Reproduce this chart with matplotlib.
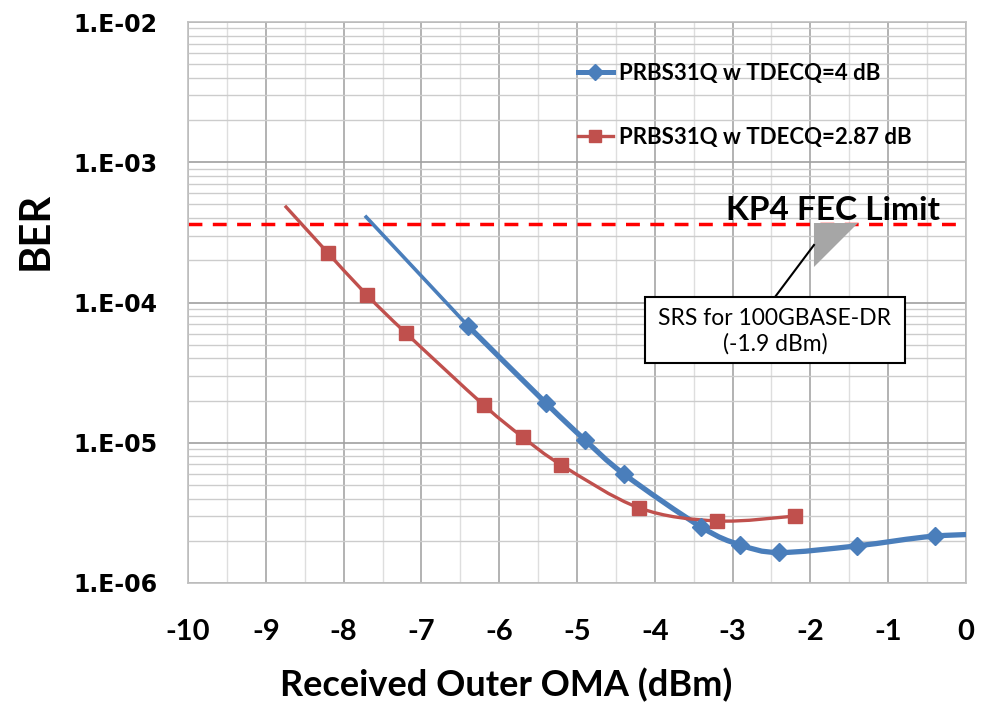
import numpy as np
import matplotlib.pyplot as plt
from matplotlib.path import Path
from matplotlib.patches import PathPatch, Polygon, Rectangle
from matplotlib.ticker import FixedLocator, FuncFormatter, LogLocator

plt.rcParams['axes.unicode_minus'] = False

# measured BER vs received outer OMA
tdecq4_x = [-6.4, -5.4, -4.9, -4.4, -3.4, -2.9, -2.4, -1.4, -0.4, 0.6]
tdecq4_y = [6.8e-5, 1.92e-5, 1.05e-5, 6.0e-6, 2.5e-6, 1.87e-6, 1.65e-6, 1.84e-6, 2.16e-6, 2.25e-6]
tdecq287_x = [-8.2, -7.7, -7.2, -6.2, -5.7, -5.2, -4.2, -3.2, -2.2]
tdecq287_y = [2.25e-4, 1.13e-4, 6.06e-5, 1.86e-5, 1.1e-5, 6.94e-6, 3.43e-6, 2.77e-6, 3.0e-6]

# extrapolated tails up to the FEC limit
tail4_x = [-7.71, -6.4]
tail4_y = [4.07e-4, 6.8e-5]
tail287_x = [-8.74, -8.2]
tail287_y = [4.8e-4, 2.25e-4]

fec_limit = 3.6e-4
labels = ['PRBS31Q w TDECQ=4 dB', 'PRBS31Q w TDECQ=2.87 dB']

blue = '#4A7EBB'
red = '#C0504D'


def smooth_path(xs, ys, t=1/6.):
    # Catmull-Rom style bezier in (x, log y) space
    lx = np.array(xs, float)
    ly = np.log10(ys)
    n = len(lx)
    verts = [(lx[0], ly[0])]
    codes = [Path.MOVETO]
    for i in range(n - 1):
        p0 = (lx[max(i - 1, 0)], ly[max(i - 1, 0)])
        p1 = (lx[i], ly[i])
        p2 = (lx[i + 1], ly[i + 1])
        p3 = (lx[min(i + 2, n - 1)], ly[min(i + 2, n - 1)])
        c1 = (p1[0] + (p2[0] - p0[0]) * t, p1[1] + (p2[1] - p0[1]) * t)
        c2 = (p2[0] - (p3[0] - p1[0]) * t, p2[1] - (p3[1] - p1[1]) * t)
        verts += [c1, c2, p2]
        codes += [Path.CURVE4] * 3
    verts = [(vx, 10 ** vy) for vx, vy in verts]
    return Path(verts, codes)


fig = plt.figure(figsize=(9.87, 7.03), dpi=100)
ax = fig.add_axes([0.1905, 0.1707, 0.7882, 0.798])

ax.set_yscale('log')
ax.set_xlim(-10, 0)
ax.set_ylim(1e-6, 1e-2)

ax.xaxis.set_major_locator(FixedLocator(np.arange(-10, 1, 1)))
ax.xaxis.set_minor_locator(FixedLocator(np.arange(-9.5, 0, 1)))
ax.yaxis.set_major_locator(LogLocator(base=10, numticks=10))
ax.yaxis.set_minor_locator(LogLocator(base=10, subs=np.arange(2, 10), numticks=20))
ax.xaxis.set_major_formatter(FuncFormatter(lambda v, p: '%d' % round(v)))
ax.yaxis.set_major_formatter(FuncFormatter(lambda v, p: '1.E-%02d' % round(-np.log10(v))))
ax.yaxis.set_minor_formatter(FuncFormatter(lambda v, p: ''))

ax.xaxis.grid(True, which='major', color='#a6a6a6', lw=1.2)
ax.xaxis.grid(True, which='minor', color='#dedede', lw=1.0)
ax.yaxis.grid(True, which='major', color='#a0a0a0', lw=1.2)
ax.yaxis.grid(True, which='minor', color='#cccccc', lw=1.0)
ax.set_axisbelow(True)
for s in ax.spines.values():
    s.set_color('#bfbfbf')
    s.set_linewidth(1.2)

ax.tick_params(which='both', length=0)
ax.tick_params(axis='y', pad=22)
ax.tick_params(axis='x', pad=26)
for t in ax.get_yticklabels():
    t.set_fontfamily('DejaVu Sans')
    t.set_fontweight('bold')
    t.set_fontsize(17)
for t in ax.get_xticklabels():
    t.set_fontfamily('Lato')
    t.set_fontweight('bold')
    t.set_fontsize(21)

# FEC limit
ax.axhline(fec_limit, color='#FF0000', lw=2.5, ls=(0, (4, 3)), zorder=2)

# tails
ax.plot(tail4_x, tail4_y, color=blue, lw=2.6, zorder=3)
ax.plot(tail287_x, tail287_y, color=red, lw=2.4, zorder=3)

# smoothed curves
ax.add_patch(PathPatch(smooth_path(tdecq4_x, tdecq4_y), fill=False, edgecolor=blue, lw=3.8, zorder=4))
ax.add_patch(PathPatch(smooth_path(tdecq287_x, tdecq287_y), fill=False, edgecolor=red, lw=2.4, zorder=4))

ax.plot(tdecq4_x, tdecq4_y, ls='none', color=blue, marker='D', ms=9,
        markeredgecolor=blue, zorder=5)
ax.plot(tdecq287_x, tdecq287_y, ls='none', color=red, marker='s', ms=10,
        markeredgecolor=red, zorder=5)

# legend handles with line through marker
l1, = ax.plot([], [], color=blue, lw=3.6, marker='D', ms=8)
l2, = ax.plot([], [], color=red, lw=2.4, marker='s', ms=9)
ax.legend([l1, l2], labels, loc='upper left', bbox_to_anchor=(0.475, 0.963),
          frameon=False, handlelength=1.6, handletextpad=0.25, labelspacing=1.95,
          prop={'family': 'Lato', 'weight': 'bold', 'size': 16})

# FEC limit label and SRS callout
ax.text(0.829, 0.647, 'KP4 FEC Limit', transform=ax.transAxes, ha='center', va='baseline',
        fontfamily='Lato', fontweight='bold', fontsize=24, zorder=6)
ax.add_patch(Polygon([(0.8046, 0.6417), (0.8612, 0.6417), (0.8046, 0.5633)],
                     closed=True, transform=ax.transAxes, facecolor='#a6a6a6',
                     edgecolor='none', zorder=6))
ax.plot([0.8046, 0.7545], [0.6025, 0.5098], transform=ax.transAxes, color='black', lw=1.5, zorder=6)
ax.add_patch(Rectangle((0.5874, 0.3922), 0.3342, 0.1176, transform=ax.transAxes,
                       facecolor='white', edgecolor='black', lw=1.5, zorder=6))
ax.text(0.7545, 0.449, 'SRS for 100GBASE-DR\n(-1.9 dBm)', transform=ax.transAxes,
        ha='center', va='center', fontfamily='Lato', fontsize=16.5, linespacing=1.2, zorder=7)

fig.text(0.036, 0.672, 'BER', rotation=90, ha='center', va='center',
         fontfamily='Lato', fontweight='bold', fontsize=30)
fig.text(0.513, 0.026, 'Received Outer OMA (dBm)', ha='center', va='center',
         fontfamily='Lato', fontweight='bold', fontsize=26)

fig.savefig('out.png', dpi=100)
